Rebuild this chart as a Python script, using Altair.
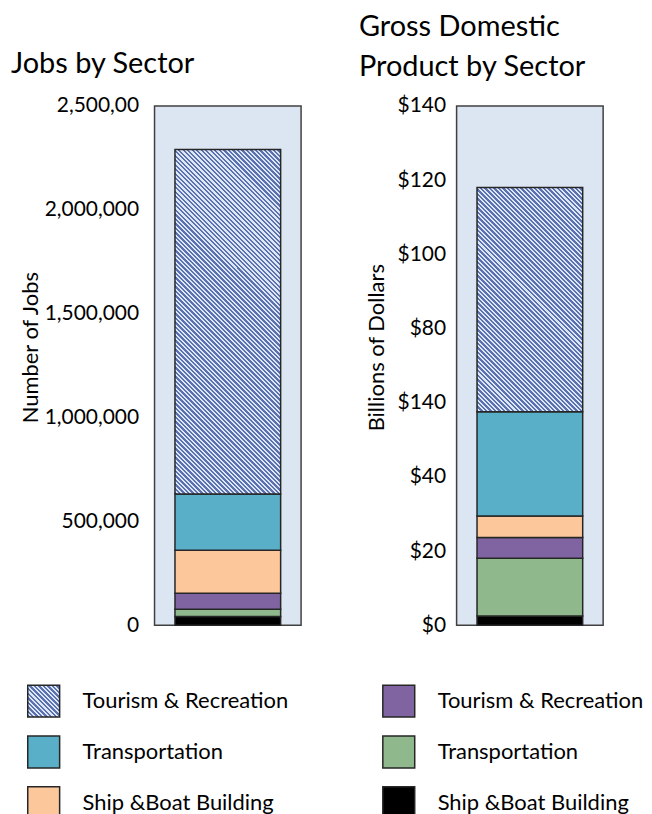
import math
import altair as alt
import pandas as pd

# ---- data (bottom -> top of each stacked bar) ----
segments = ["black", "green", "purple", "peach", "blue", "hatch"]
seg_colors = ["#000000", "#8fb98c", "#8064a2", "#fcc89b", "#5aafc8", "#8ea0cc"]
jobs = [43000, 35000, 77000, 206000, 271000, 1658000]
gdp = [2.5, 15.6, 5.6, 5.8, 28.1, 60.4]

jobs_ticks = [0, 500000, 1000000, 1500000, 2000000, 2500000]
jobs_tick_labels = ["0", "500,000", "1,000,000", "1,500,000", "2,000,000", "2,500,00"]
gdp_ticks = [0, 20, 40, 60, 80, 100, 120, 140]
gdp_tick_labels = ["$0", "$20", "$40", "$140", "$80", "$100", "$120", "$140"]

jobs_title = ["Jobs by Sector"]
gdp_title = ["Gross Domestic", "Product by Sector"]

legend_keys = ["hatch", "blue", "peach", "purple", "green", "black"]
legend_labels = ["Tourism & Recreation", "Transportation", "Ship &Boat Building",
                 "Tourism & Recreation", "Transportation", "Ship &Boat Building"]
legend_cols = [0, 0, 0, 1, 1, 1]
legend_rows = [0, 1, 2, 0, 1, 2]

FONT = "Lato"
DARK = "#5a72b0"
LIGHT = "#dfe6f3"


def hatch(w, h, period=3.2, dark_frac=0.55):
    """Linear gradient with many hard stops -> diagonal '\\' stripes."""
    t = (w + h) / (w * w + h * h)
    x2 = w * t
    y2 = 1 - h * t
    length = (w + h) / math.sqrt(2)
    n = max(1, int(round(length / period)))
    stops = []
    for i in range(n):
        a = round(i / n, 5)
        b = round((i + dark_frac) / n, 5)
        c = round((i + 1) / n, 5)
        stops += [
            {"offset": a, "color": DARK},
            {"offset": b, "color": DARK},
            {"offset": b, "color": LIGHT},
            {"offset": c, "color": LIGHT},
        ]
    return {"gradient": "linear", "x1": 0, "y1": 1, "x2": round(x2, 5), "y2": round(y2, 5), "stops": stops}


def label_expr(ticks, labels):
    parts = [f"datum.value == {v} ? '{l}'" for v, l in zip(ticks, labels)]
    return " : ".join(parts) + " : ''"


PLOT_W, PLOT_H = 147, 521


def panel(values, ticks, labels, ytitle, title_lines, title_dx, title_ys, label_pad, axis_title_x):
    df = pd.DataFrame({"seg": segments, "value": values, "order": list(range(len(segments))), "panel": "a"})
    base = alt.Chart(df).transform_stack(
        stack="value", groupby=["panel"], as_=["y0", "y1"],
        sort=[alt.SortField("order", order="ascending")],
    )
    y = alt.Y(
        "y0:Q",
        scale=alt.Scale(domain=[0, ticks[-1]], nice=False, zero=True),
        axis=alt.Axis(
            values=ticks, labelExpr=label_expr(ticks, labels), title=ytitle,
            labelPadding=label_pad, titleX=axis_title_x, titleY=242, titleAngle=270,
            titleAlign="center", titleBaseline="middle",
        ),
    )
    x = alt.X("panel:N", axis=None)
    hatch_h = values[-1] / ticks[-1] * PLOT_H
    solid = base.transform_filter("datum.seg != 'hatch'").mark_bar(
        size=106, stroke="#262626", strokeWidth=1.5
    ).encode(
        x=x, y=y, y2="y1:Q",
        color=alt.Color("seg:N", scale=alt.Scale(domain=segments, range=seg_colors), legend=None),
    )
    hatched = base.transform_filter("datum.seg == 'hatch'").mark_bar(
        size=106, stroke="#262626", strokeWidth=1.5, fill=hatch(106, hatch_h)
    ).encode(x=x, y=y, y2="y1:Q")
    layers = [solid, hatched]
    for line, ty in zip(title_lines, title_ys):
        layers.append(
            alt.Chart(pd.DataFrame({"t": [line]})).mark_text(
                align="left", baseline="middle", fontSize=29, font=FONT, color="black"
            ).encode(text="t:N", x=alt.value(title_dx), y=alt.value(ty))
        )
    return alt.layer(*layers).properties(
        width=PLOT_W, height=PLOT_H,
        view=alt.ViewBackground(fill="#dce6f2", stroke="#404040", strokeWidth=1.5),
    )


left = panel(jobs, jobs_ticks, jobs_tick_labels, "Number of Jobs",
             jobs_title, -144, [-42], 16, -124)
right = panel(gdp, gdp_ticks, gdp_tick_labels, "Billions of Dollars",
              gdp_title, -98, [-79, -39], 11, -80)

top = alt.hconcat(left, right, spacing=56)

# ---- legend (positions relative to the left plot's origin) ----
leg_df = pd.DataFrame({"key": legend_keys, "label": legend_labels, "col": legend_cols, "row": legend_rows})
lx = alt.X("col:Q", scale=alt.Scale(domain=[0, 1], range=[-111.2, 245]), axis=None)
ly = alt.Y("row:Q", scale=alt.Scale(domain=[0, 2], range=[40, 142]), axis=None)
leg_base = alt.Chart(leg_df)
sw_solid = leg_base.transform_filter("datum.key != 'hatch'").mark_square(
    size=1024, filled=True, opacity=1, stroke="#262626", strokeWidth=1.5
).encode(
    x=lx, y=ly,
    color=alt.Color("key:N", scale=alt.Scale(domain=segments, range=seg_colors), legend=None),
)
sw_hatch = leg_base.transform_filter("datum.key == 'hatch'").mark_square(
    size=1024, filled=True, opacity=1, stroke="#262626", strokeWidth=1.5, fill=hatch(32, 32)
).encode(x=lx, y=ly)
leg_text = leg_base.mark_text(
    align="left", baseline="middle", dx=39, fontSize=22, font=FONT, color="black"
).encode(x=lx, y=ly, text="label:N")
legend = alt.layer(sw_solid, sw_hatch, leg_text).properties(
    width=PLOT_W, height=150,
    view=alt.ViewBackground(stroke="transparent", fill="transparent"),
)

chart = alt.vconcat(top, legend, spacing=24).properties(
    padding={"left": 2, "top": 3, "right": 0, "bottom": 0}
).configure_axis(
    labelFont=FONT, labelFontSize=21, labelColor="black",
    titleFont=FONT, titleFontSize=22, titleFontWeight="normal", titleColor="black",
    domain=False, ticks=False, tickSize=0, grid=False,
).configure_view(stroke="transparent")

chart.save("out.html", embed_options={"renderer": "svg", "actions": False})
